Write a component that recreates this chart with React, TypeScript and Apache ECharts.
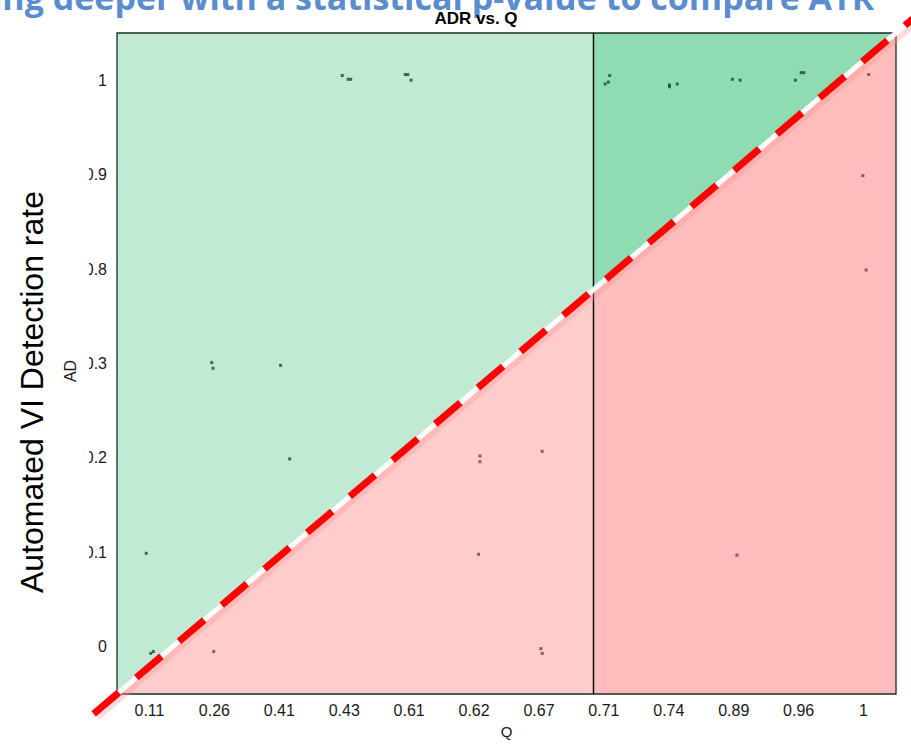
import React, { useEffect, useRef } from "react";
import * as echarts from "echarts";

const xLabels = ["0.11", "0.26", "0.41", "0.43", "0.61", "0.62", "0.67", "0.71", "0.74", "0.89", "0.96", "1"];
const yLabels = ["0", "0.1", "0.2", "0.3", "0.8", "0.9", "1"];

// points above the diagonal (green zone), [x position, y position] on the category grid
const abovePoints = [
  [3.47, 6.55], [3.56, 6.51], [3.6, 6.51], [4.44, 6.56], [4.48, 6.56], [4.53, 6.5],
  [7.59, 6.55], [7.57, 6.48], [7.52, 6.46], [8.51, 6.45], [8.51, 6.43], [8.63, 6.46],
  [9.48, 6.51], [9.6, 6.5], [10.45, 6.5], [10.54, 6.58], [10.58, 6.58],
  [1.46, 3.51], [1.48, 3.45], [2.52, 3.48], [2.66, 2.49], [0.45, 1.49],
  [0.52, 0.43], [0.56, 0.45],
];
// points below the diagonal (red zone)
const belowPoints = [
  [1.49, 0.45], [5.59, 2.52], [5.59, 2.46], [6.55, 2.57], [5.57, 1.48],
  [6.53, 0.48], [6.55, 0.43], [9.55, 1.47], [11.49, 5.49], [11.54, 4.49], [11.58, 6.56],
];

const xMax = xLabels.length;
const yMax = yLabels.length;
const splitX = 7.34;

export default function App() {
  const ref = useRef<HTMLDivElement>(null);
  useEffect(() => {
    if (!ref.current) return;
    const chart = echarts.init(ref.current, null, { renderer: "svg" });
    const font = "'Liberation Sans', Arial, sans-serif";
    const diag = (x: number) => (x * yMax) / xMax;

    const option: any = {
      animation: false,
      backgroundColor: "#ffffff",
      grid: { left: 117, top: 33, width: 779, height: 667, containLabel: false },
      xAxis: [
        {
          type: "category",
          data: xLabels,
          boundaryGap: true,
          axisLine: { show: false },
          axisTick: { show: false },
          splitLine: { show: false },
          axisLabel: { fontSize: 16, fontFamily: font, color: "#1a1a1a", margin: 8 },
          name: "Q",
          nameLocation: "middle",
          nameGap: 30,
          nameTextStyle: { fontSize: 15, fontFamily: font, color: "#1a1a1a" },
        },
        { type: "value", min: 0, max: xMax, show: false },
      ],
      yAxis: [
        {
          type: "category",
          data: yLabels,
          boundaryGap: true,
          axisLine: { show: false },
          axisTick: { show: false },
          splitLine: { show: false },
          axisLabel: { fontSize: 16, fontFamily: font, color: "#1a1a1a", margin: 10 },
        },
        { type: "value", min: 0, max: yMax, show: false },
      ],
      series: [
        {
          type: "custom",
          xAxisIndex: 1,
          yAxisIndex: 1,
          z: 1,
          silent: true,
          data: [[0, 0]],
          renderItem: (params: any, api: any) => {
            const c = (x: number, y: number) => api.coord([x, y]);
            const dS = diag(splitX);
            const poly = (pts: number[][], fill: string) => ({
              type: "polygon",
              shape: { points: pts.map((p) => c(p[0], p[1])) },
              style: { fill },
            });
            const p0 = c(0, 0);
            const p1 = c(xMax, yMax);
            const a = c(-0.36, diag(-0.36));
            const b = c(12.35, diag(12.35));
            const vt = c(splitX, yMax);
            const vb = c(splitX, 0);
            return {
              type: "group",
              children: [
                poly([[0, 0], [0, yMax], [splitX, yMax], [splitX, dS]], "#c0ead4"),
                poly([[splitX, dS], [splitX, yMax], [xMax, yMax]], "#8fdbb2"),
                poly([[0, 0], [splitX, dS], [splitX, 0]], "#ffcccc"),
                poly([[splitX, 0], [splitX, dS], [xMax, yMax], [xMax, 0]], "#ffbcbc"),
                {
                  type: "rect",
                  shape: { x: p0[0], y: p1[1], width: p1[0] - p0[0], height: p0[1] - p1[1] },
                  style: { fill: "none", stroke: "#1c2b22", lineWidth: 1.3 },
                },
                {
                  type: "line",
                  shape: { x1: vt[0], y1: vt[1], x2: vb[0], y2: vb[1] },
                  style: { stroke: "#111111", lineWidth: 1.5 },
                },
                {
                  type: "line",
                  shape: { x1: a[0] + 3, y1: a[1] + 3, x2: b[0] + 3, y2: b[1] + 3 },
                  style: { stroke: "rgba(255,150,150,0.35)", lineWidth: 8 },
                },
                {
                  type: "line",
                  shape: { x1: a[0], y1: a[1], x2: b[0], y2: b[1] },
                  style: { stroke: "#ffffff", lineWidth: 5 },
                },
                {
                  type: "line",
                  shape: { x1: a[0], y1: a[1], x2: b[0], y2: b[1] },
                  style: { stroke: "#ff0000", lineWidth: 7, lineDash: [33, 23] },
                },
              ],
            };
          },
        },
        {
          type: "scatter",
          xAxisIndex: 1,
          yAxisIndex: 1,
          z: 5,
          symbol: "rect",
          symbolSize: 3,
          itemStyle: { color: "#1b4a30" },
          data: abovePoints,
        },
        {
          type: "scatter",
          xAxisIndex: 1,
          yAxisIndex: 1,
          z: 5,
          symbol: "rect",
          symbolSize: 3,
          itemStyle: { color: "#6e4242" },
          data: belowPoints,
        },
      ],
      graphic: [
        {
          type: "rect",
          z: 100,
          shape: { x: 0, y: 110, width: 89, height: 500 },
          style: { fill: "#ffffff" },
        },
        {
          type: "text",
          z: 101,
          x: 70,
          y: 371,
          rotation: Math.PI / 2,
          style: {
            text: "AD",
            fontSize: 16,
            fontFamily: font,
            fill: "#1a1a1a",
            align: "center",
            verticalAlign: "middle",
          },
        },
        {
          type: "text",
          z: 101,
          x: 32,
          y: 392,
          rotation: Math.PI / 2,
          style: {
            text: "Automated VI Detection rate",
            fontSize: 32,
            fontFamily: font,
            fill: "#000000",
            align: "center",
            verticalAlign: "middle",
          },
        },
        {
          type: "text",
          z: 101,
          x: -82,
          y: -3,
          style: {
            text: "Digging deeper with a statistical p-value to compare ATR",
            fontSize: 34,
            fontWeight: "bold",
            fontFamily: "'Open Sans', sans-serif",
            fill: "#5b8ccd",
            align: "left",
            verticalAlign: "middle",
          },
        },
        {
          type: "text",
          z: 101,
          x: 476,
          y: 18,
          style: {
            text: "ADR vs. Q",
            fontSize: 17,
            fontWeight: "bold",
            fontFamily: font,
            fill: "#000000",
            align: "center",
            verticalAlign: "middle",
          },
        },
      ],
    };
    chart.setOption(option);
    return () => chart.dispose();
  }, []);
  return (
    <div
      ref={ref}
      style={{ position: "fixed", left: 0, top: 0, width: 911, height: 744 }}
    />
  );
}
